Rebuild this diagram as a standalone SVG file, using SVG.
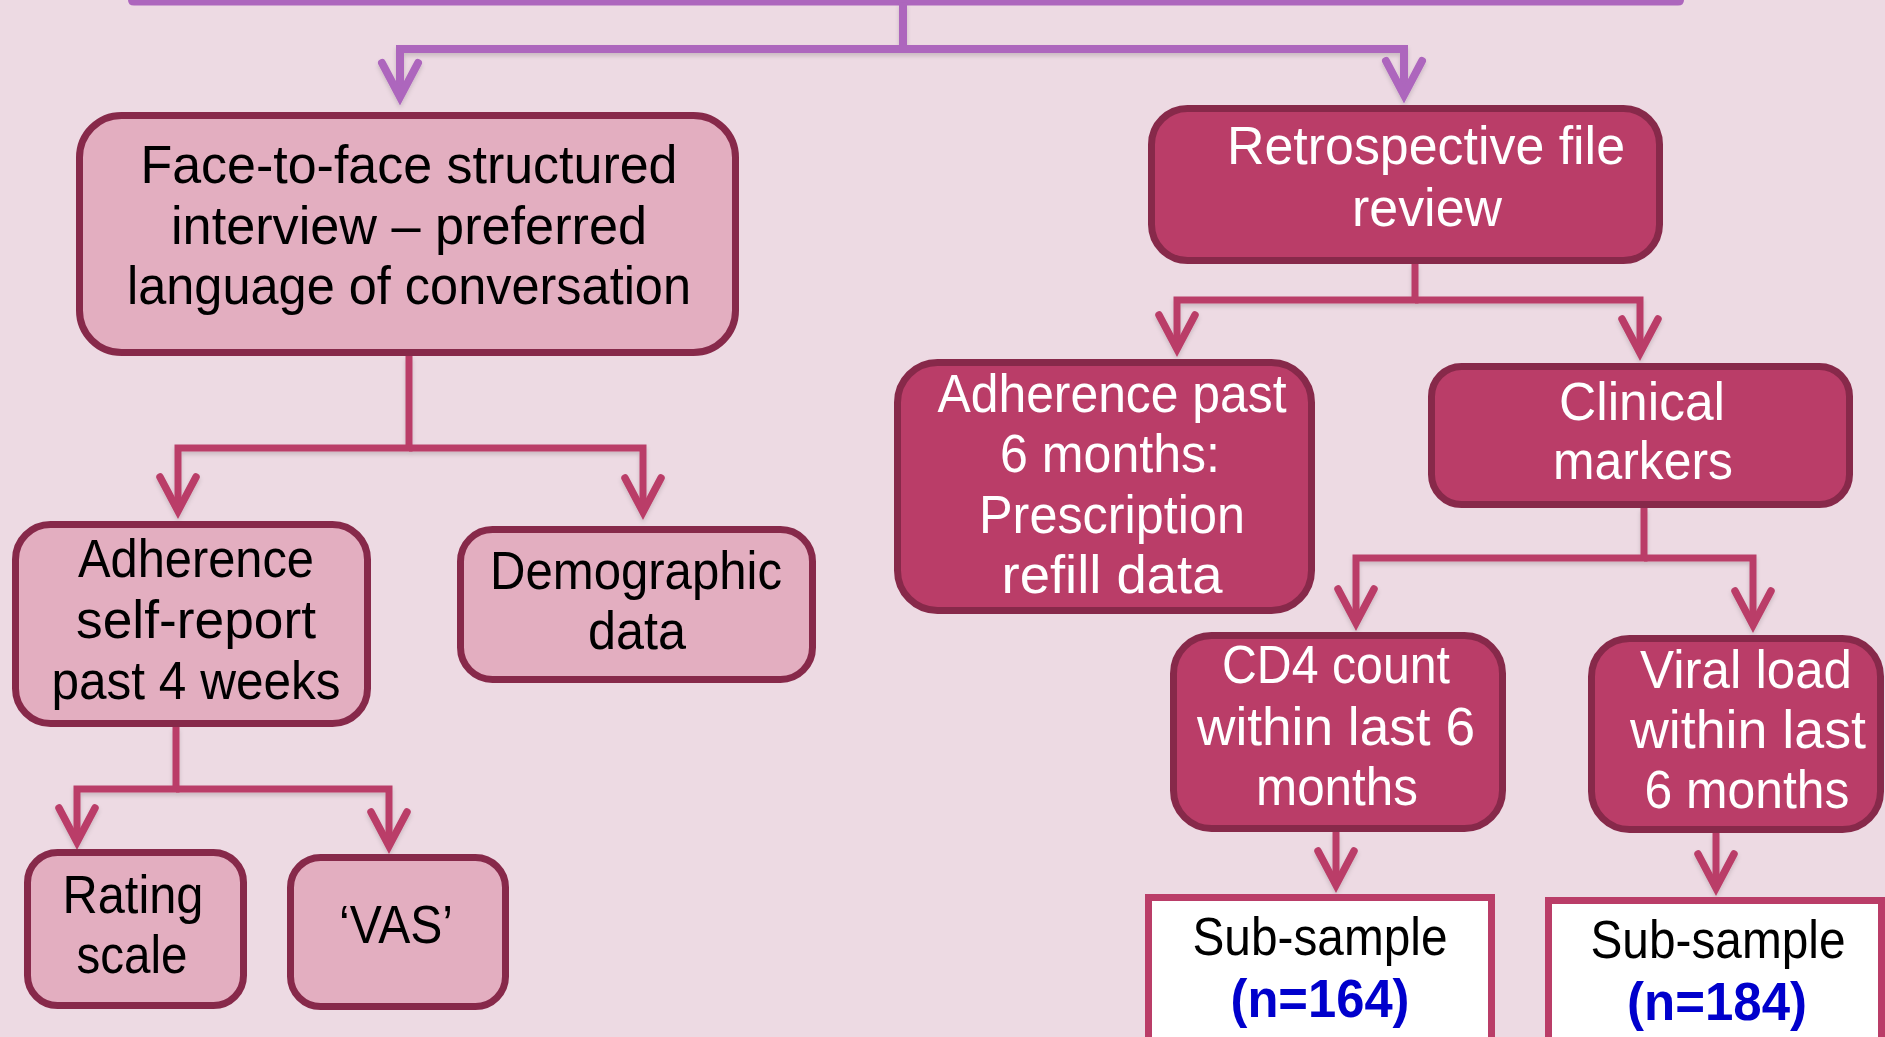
<svg xmlns="http://www.w3.org/2000/svg" width="1885" height="1037" viewBox="0 0 1885 1037">
<defs>
<style>
.bg{fill:#EDDAE3}
.light rect{fill:#E3AEC0;stroke:#87294A;stroke-width:7}
.dark rect{fill:#BA3D68;stroke:#87294A;stroke-width:7}
.sub rect{fill:#FFFFFF;stroke:#BA3D68;stroke-width:7}
text{font-family:"Liberation Sans",Arial,sans-serif;font-size:53px;text-anchor:middle}
.light text{fill:#000000}
.dark text{fill:#FFFFFF}
.sub text{fill:#000000}
.sub text.n{fill:#0000CC;font-weight:bold}
.cp{fill:none;stroke:#AD66BD;stroke-width:8;marker-end:url(#ap)}
.cr{fill:none;stroke:#BA3D68;stroke-width:7;marker-end:url(#ar)}
</style>
<marker id="ap" markerUnits="userSpaceOnUse" orient="auto" refX="-10" refY="0" markerWidth="60" markerHeight="60" overflow="visible">
<polyline points="-43,-18 -9,0 -43,18" fill="none" stroke="#AD66BD" stroke-width="8" stroke-linecap="round" stroke-linejoin="miter"/>
</marker>
<marker id="ar" markerUnits="userSpaceOnUse" orient="auto" refX="-10" refY="0" markerWidth="60" markerHeight="60" overflow="visible">
<polyline points="-43,-18 -9,0 -43,18" fill="none" stroke="#BA3D68" stroke-width="7.5" stroke-linecap="round" stroke-linejoin="miter"/>
</marker>
<filter id="sh" x="-5%" y="-5%" width="110%" height="110%">
<feDropShadow dx="0" dy="3" stdDeviation="2" flood-color="#000" flood-opacity="0.15"/>
</filter>
</defs>
<rect class="bg" x="0" y="0" width="1885" height="1037"/>

<g id="top-box">
<path d="M131,-10 V0 Q131,2.5 134,2.5 H1678 Q1681,2.5 1681,0 V-10" fill="none" stroke="#AD66BD" stroke-width="6"/>
</g>

<g id="connectors" filter="url(#sh)">
<path class="cp" d="M903,3 V49 H400 V96"/>
<path class="cp" d="M903,49 H1404 V94"/>
<path class="cr" d="M409,356 V448 H178 V510"/>
<path class="cr" d="M409,448 H643 V511"/>
<path class="cr" d="M176,727 V789 H77 V841"/>
<path class="cr" d="M176,789 H389 V845"/>
<path class="cr" d="M1415,264 V300 H1177 V348"/>
<path class="cr" d="M1415,300 H1640 V352"/>
<path class="cr" d="M1644,508 V558 H1356 V622"/>
<path class="cr" d="M1644,558 H1753 V624"/>
<path class="cr" d="M1336,832 V884"/>
<path class="cr" d="M1716,833 V887"/>
</g>

<g id="face-to-face" class="light">
<rect x="79.5" y="115.5" width="656" height="237" rx="42"/>
<text x="409" y="183" textLength="537" lengthAdjust="spacingAndGlyphs">Face-to-face structured</text>
<text x="409" y="244" textLength="476" lengthAdjust="spacingAndGlyphs">interview – preferred</text>
<text x="409" y="304" textLength="564" lengthAdjust="spacingAndGlyphs">language of conversation</text>
</g>

<g id="retrospective" class="dark">
<rect x="1151.5" y="108.5" width="508" height="152" rx="36"/>
<text x="1426" y="164" textLength="398" lengthAdjust="spacingAndGlyphs">Retrospective file</text>
<text x="1427" y="226" textLength="150" lengthAdjust="spacingAndGlyphs">review</text>
</g>

<g id="adherence-self-report" class="light">
<rect x="15.5" y="524.5" width="352" height="199" rx="35"/>
<text x="196" y="577" textLength="236" lengthAdjust="spacingAndGlyphs">Adherence</text>
<text x="196" y="638" textLength="240" lengthAdjust="spacingAndGlyphs">self-report</text>
<text x="196" y="699" textLength="289" lengthAdjust="spacingAndGlyphs">past 4 weeks</text>
</g>

<g id="demographic" class="light">
<rect x="460.5" y="529.5" width="352" height="150" rx="32"/>
<text x="636" y="589" textLength="292" lengthAdjust="spacingAndGlyphs">Demographic</text>
<text x="637" y="649" textLength="98" lengthAdjust="spacingAndGlyphs">data</text>
</g>

<g id="rating-scale" class="light">
<rect x="27.5" y="852.5" width="216" height="153" rx="30"/>
<text x="133" y="913" textLength="141" lengthAdjust="spacingAndGlyphs">Rating</text>
<text x="132" y="973" textLength="111" lengthAdjust="spacingAndGlyphs">scale</text>
</g>

<g id="vas" class="light">
<rect x="290.5" y="857.5" width="215" height="149" rx="30"/>
<text x="396" y="943" textLength="114" lengthAdjust="spacingAndGlyphs">‘VAS’</text>
</g>

<g id="adherence-refill" class="dark">
<rect x="897.5" y="362.5" width="414" height="248" rx="40"/>
<text x="1112" y="412" textLength="349" lengthAdjust="spacingAndGlyphs">Adherence past</text>
<text x="1110" y="472" textLength="220" lengthAdjust="spacingAndGlyphs">6 months:</text>
<text x="1112" y="533" textLength="266" lengthAdjust="spacingAndGlyphs">Prescription</text>
<text x="1112" y="593" textLength="221" lengthAdjust="spacingAndGlyphs">refill data</text>
</g>

<g id="clinical-markers" class="dark">
<rect x="1431.5" y="366.5" width="418" height="138" rx="30"/>
<text x="1642" y="420" textLength="166" lengthAdjust="spacingAndGlyphs">Clinical</text>
<text x="1643" y="479" textLength="180" lengthAdjust="spacingAndGlyphs">markers</text>
</g>

<g id="cd4" class="dark">
<rect x="1173.5" y="635.5" width="329" height="193" rx="38"/>
<text x="1336" y="683" textLength="228" lengthAdjust="spacingAndGlyphs">CD4 count</text>
<text x="1336" y="745" textLength="278" lengthAdjust="spacingAndGlyphs">within last 6</text>
<text x="1337" y="805" textLength="162" lengthAdjust="spacingAndGlyphs">months</text>
</g>

<g id="viral-load" class="dark">
<rect x="1591.5" y="638.5" width="289" height="191" rx="38"/>
<text x="1746" y="688" textLength="212" lengthAdjust="spacingAndGlyphs">Viral load</text>
<text x="1748" y="748" textLength="236" lengthAdjust="spacingAndGlyphs">within last</text>
<text x="1747" y="808" textLength="205" lengthAdjust="spacingAndGlyphs">6 months</text>
</g>

<g id="sub-sample-164" class="sub">
<rect x="1148.5" y="897.5" width="343" height="200"/>
<text x="1320" y="955" textLength="255" lengthAdjust="spacingAndGlyphs">Sub-sample</text>
<text class="n" x="1320" y="1017" textLength="179" lengthAdjust="spacingAndGlyphs">(n=164)</text>
</g>

<g id="sub-sample-184" class="sub">
<rect x="1548.5" y="900.5" width="333" height="200"/>
<text x="1718" y="958" textLength="255" lengthAdjust="spacingAndGlyphs">Sub-sample</text>
<text class="n" x="1717" y="1020" textLength="180" lengthAdjust="spacingAndGlyphs">(n=184)</text>
</g>
</svg>
